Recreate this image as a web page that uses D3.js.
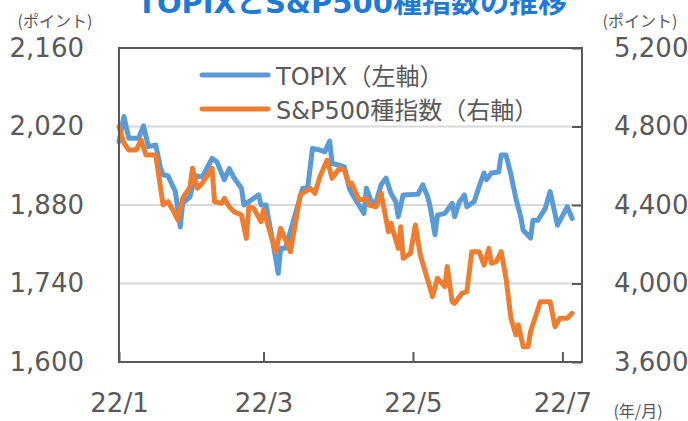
<!DOCTYPE html>
<html><head><meta charset="utf-8">
<script src="https://cdn.jsdelivr.net/npm/d3@7"></script>
<style>body{margin:0;background:#fff;} svg{display:block;}</style>
</head><body><svg id="c" width="688" height="421"></svg>
<script>
const titleText = "TOPIXとS&P500種指数の推移";
const seriesNames = ["TOPIX（左軸）", "S&P500種指数（右軸）"];
const leftUnit = "(ポイント)";
const rightUnit = "(ポイント)";
const xUnit = "(年/月)";

const topixDates = ["2022-01-01","2022-01-03","2022-01-05","2022-01-09","2022-01-11","2022-01-13","2022-01-16","2022-01-18","2022-01-19","2022-01-21","2022-01-24","2022-01-26","2022-01-27","2022-01-30","2022-02-01","2022-02-04","2022-02-08","2022-02-10","2022-02-13","2022-02-15","2022-02-17","2022-02-20","2022-02-21","2022-02-23","2022-02-27","2022-02-28","2022-03-02","2022-03-05","2022-03-07","2022-03-08","2022-03-10","2022-03-17","2022-03-19","2022-03-21","2022-03-24","2022-03-26","2022-03-28","2022-03-29","2022-04-01","2022-04-03","2022-04-05","2022-04-06","2022-04-11","2022-04-12","2022-04-14","2022-04-16","2022-04-18","2022-04-20","2022-04-22","2022-04-24","2022-04-25","2022-04-27","2022-05-03","2022-05-05","2022-05-07","2022-05-08","2022-05-10","2022-05-11","2022-05-14","2022-05-17","2022-05-18","2022-05-20","2022-05-22","2022-05-23","2022-05-26","2022-05-28","2022-05-30","2022-05-31","2022-06-02","2022-06-05","2022-06-06","2022-06-08","2022-06-10","2022-06-12","2022-06-14","2022-06-15","2022-06-18","2022-06-19","2022-06-21","2022-06-24","2022-06-26","2022-06-29","2022-07-03","2022-07-05"];
const topixValues = [1993,2038,1999,1999,2021,1984,1987,1946,1934,1932,1904,1841,1883,1895,1932,1930,1963,1957,1925,1945,1928,1910,1880,1886,1898,1880,1880,1809,1758,1803,1803,1910,1910,1981,1978,1975,1994,1954,1951,1948,1910,1901,1865,1910,1886,1886,1916,1928,1901,1886,1859,1898,1899,1916,1895,1877,1827,1862,1865,1883,1859,1886,1898,1877,1886,1913,1937,1925,1937,1939,1969,1969,1934,1892,1859,1835,1821,1853,1853,1874,1904,1844,1877,1856];

const spxDates = ["2022-01-01","2022-01-03","2022-01-05","2022-01-08","2022-01-10","2022-01-12","2022-01-16","2022-01-17","2022-01-19","2022-01-21","2022-01-23","2022-01-25","2022-01-27","2022-01-30","2022-01-31","2022-02-02","2022-02-04","2022-02-08","2022-02-09","2022-02-12","2022-02-13","2022-02-15","2022-02-17","2022-02-20","2022-02-22","2022-02-23","2022-02-25","2022-02-28","2022-03-01","2022-03-06","2022-03-08","2022-03-12","2022-03-16","2022-03-20","2022-03-22","2022-03-24","2022-03-27","2022-03-29","2022-04-01","2022-04-03","2022-04-05","2022-04-06","2022-04-09","2022-04-12","2022-04-13","2022-04-16","2022-04-18","2022-04-21","2022-04-22","2022-04-25","2022-04-26","2022-04-27","2022-04-30","2022-05-02","2022-05-04","2022-05-09","2022-05-11","2022-05-14","2022-05-15","2022-05-17","2022-05-18","2022-05-21","2022-05-23","2022-05-25","2022-05-28","2022-05-30","2022-06-01","2022-06-02","2022-06-04","2022-06-06","2022-06-08","2022-06-10","2022-06-12","2022-06-13","2022-06-15","2022-06-17","2022-06-18","2022-06-22","2022-06-24","2022-06-26","2022-06-28","2022-06-30","2022-07-03","2022-07-05"];
const spxValues = [4799,4716,4680,4680,4731,4655,4655,4570,4400,4417,4375,4324,4434,4493,4587,4485,4511,4587,4417,4409,4434,4391,4366,4349,4230,4391,4383,4315,4375,4162,4281,4162,4451,4485,4460,4544,4629,4536,4587,4578,4502,4511,4425,4434,4400,4391,4460,4264,4307,4179,4289,4128,4154,4298,4145,3933,4027,3984,4086,3907,3899,3950,3958,4162,4162,4094,4179,4103,4111,4162,4027,3823,3738,3789,3678,3678,3754,3907,3907,3907,3780,3823,3823,3848];

const leftTicks = [1600, 1740, 1880, 2020, 2160];
const rightTicks = [3600, 4000, 4400, 4800, 5200];
const xTickDates = ["2022-01-01", "2022-03-01", "2022-05-01", "2022-07-01"];
const xTickLabels = ["22/1", "22/3", "22/5", "22/7"];

const parse = d3.timeParse("%Y-%m-%d");
const svg = d3.select("#c");
const m = {l: 119, t: 48, r: 582, b: 362};
const FONT = "'DejaVu Sans', 'Noto Sans CJK JP', sans-serif";
const CJK = "'Noto Sans CJK JP', sans-serif";
const gray = "#595959";

const x = d3.scaleTime().domain([parse("2022-01-01"), parse("2022-07-09")]).range([m.l, m.r]);
const yL = d3.scaleLinear().domain([1600, 2160]).range([m.b, m.t]);
const yR = d3.scaleLinear().domain([3600, 5200]).range([m.b, m.t]);

// gridlines
svg.append("g").selectAll("line").data(leftTicks.slice(1, -1)).join("line")
  .attr("x1", m.l).attr("x2", m.r).attr("y1", d => yL(d)).attr("y2", d => yL(d))
  .attr("stroke", "#D9D9D9").attr("stroke-width", 2);

// lines
const topix = topixDates.map((d, i) => ({date: parse(d), v: topixValues[i]}));
const spx = spxDates.map((d, i) => ({date: parse(d), v: spxValues[i]}));
svg.append("path").datum(topix)
  .attr("d", d3.line().x(d => x(d.date)).y(d => yL(d.v)))
  .attr("fill", "none").attr("stroke", "#5B9BD5").attr("stroke-width", 5)
  .attr("stroke-linejoin", "round").attr("stroke-linecap", "round");
svg.append("path").datum(spx)
  .attr("d", d3.line().x(d => x(d.date)).y(d => yR(d.v)))
  .attr("fill", "none").attr("stroke", "#ED7D31").attr("stroke-width", 5)
  .attr("stroke-linejoin", "round").attr("stroke-linecap", "round");

// frame
svg.append("rect").attr("x", m.l).attr("y", m.t).attr("width", m.r - m.l).attr("height", m.b - m.t)
  .attr("fill", "none").attr("stroke", gray).attr("stroke-width", 2);

// left axis labels
const gl = svg.append("g").attr("transform", `translate(${m.l},0)`)
  .call(d3.axisLeft(yL).tickValues(leftTicks).tickSize(0).tickPadding(35).tickFormat(d3.format(",")));
gl.select(".domain").remove();
gl.selectAll("text").attr("font-family", FONT).attr("font-size", 26).attr("fill", gray);

// right axis labels
const gr = svg.append("g").attr("transform", `translate(${m.r},0)`)
  .call(d3.axisRight(yR).tickValues(rightTicks).tickSize(0).tickPadding(32).tickFormat(d3.format(",")));
gr.select(".domain").remove();
gr.selectAll("text").attr("font-family", FONT).attr("font-size", 26).attr("fill", gray);
// right inner tick marks
const grt = svg.append("g").attr("transform", `translate(${m.r},0)`)
  .call(d3.axisLeft(yR).tickValues(rightTicks).tickSize(10).tickFormat(""));
grt.select(".domain").remove();
grt.selectAll("line").attr("stroke", gray).attr("stroke-width", 2);

// bottom axis labels
const gb = svg.append("g").attr("transform", `translate(0,${m.b})`)
  .call(d3.axisBottom(x).tickValues(xTickDates.map(parse)).tickSize(0).tickPadding(32)
    .tickFormat((d, i) => xTickLabels[i]));
gb.select(".domain").remove();
gb.selectAll("text").attr("font-family", FONT).attr("font-size", 26).attr("fill", gray);
const gbt = svg.append("g").attr("transform", `translate(0,${m.b})`)
  .call(d3.axisTop(x).tickValues(xTickDates.map(parse)).tickSize(10).tickFormat(""));
gbt.select(".domain").remove();
gbt.selectAll("line").attr("stroke", gray).attr("stroke-width", 2);

// units
svg.append("text").attr("x", 55).attr("y", 20).attr("text-anchor", "middle").attr("dominant-baseline", "central")
  .attr("font-family", CJK).attr("font-size", 16).attr("fill", gray).text(leftUnit);
svg.append("text").attr("x", 640).attr("y", 20).attr("text-anchor", "middle").attr("dominant-baseline", "central")
  .attr("font-family", CJK).attr("font-size", 16).attr("fill", gray).text(rightUnit);
svg.append("text").attr("x", 638).attr("y", 410).attr("text-anchor", "middle").attr("dominant-baseline", "central")
  .attr("font-family", CJK).attr("font-size", 16).attr("fill", gray).text(xUnit);

// title (top is clipped by the canvas edge, as in the reference)
svg.append("text").attr("x", 352).attr("y", 13).attr("text-anchor", "middle")
  .attr("font-family", FONT).attr("font-weight", "bold").attr("font-size", 29).attr("fill", "#1F7AD6").text(titleText);

// legend
const colors = ["#5B9BD5", "#ED7D31"];
const lg = svg.append("g");
seriesNames.forEach((name, i) => {
  const ly = 75 + i * 34;
  lg.append("line").attr("x1", 202).attr("x2", 268).attr("y1", ly).attr("y2", ly)
    .attr("stroke", colors[i]).attr("stroke-width", 5).attr("stroke-linecap", "round");
  lg.append("text").attr("x", 276).attr("y", ly + 2).attr("dominant-baseline", "central")
    .attr("font-family", FONT).attr("font-size", 24).attr("fill", gray).text(name);
});
</script></body></html>
